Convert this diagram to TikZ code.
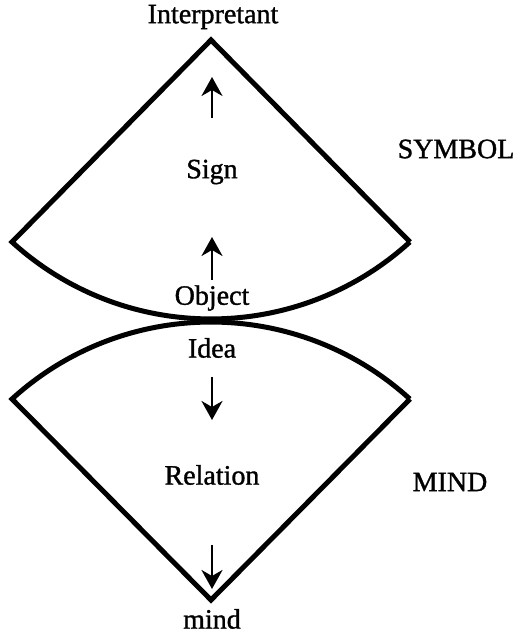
\documentclass[tikz,border=0pt]{standalone}
\usepackage{fontspec}
\setmainfont{Liberation Serif}
\newfontfamily\lblfont{Liberation Serif}[FakeBold=1.2]
\usetikzlibrary{arrows.meta}
\begin{document}
\begin{tikzpicture}[x=1pt,y=1pt,
  shape line/.style={line width=5pt, line join=miter},
  flow/.style={line width=2.6pt, -{Stealth[length=19pt,width=21pt,inset=6pt]}},
  lbl/.style={font=\lblfont\fontsize{28}{30}\selectfont, inner sep=0pt}]
\useasboundingbox (0,0) rectangle (521,632);
% upper sector
\coordinate (ua) at (211,592);
\coordinate (ul) at (12,390);
\coordinate (ur) at (410,390);
\draw[shape line] (ur) -- (ua) -- (ul) arc[start angle=227.7, end angle=312.3, radius=295.6];
% lower sector
\coordinate (la) at (211,32);
\coordinate (ll) at (12,233);
\coordinate (lr) at (410,233);
\draw[shape line] (lr) -- (la) -- (ll) arc[start angle=132.3, end angle=47.7, radius=295.6];
% labels
\node[lbl] (interp) at (213,615) {Interpretant};
\node[lbl] (sign) at (212,460) {Sign};
\node[lbl] (symbol) at (456,483) {SYMBOL};
\node[lbl] (object) at (212,334) {Object};
\node[lbl] (idea) at (212,284) {Idea};
\node[lbl] (relation) at (212,157) {Relation};
\node[lbl] (mindcap) at (450,150) {MIND};
\node[lbl] (mind) at (212,13) {mind};
% arrows
\coordinate (a1s) at (212,514); \coordinate (a1e) at (212,555);
\coordinate (a2s) at (212,352); \coordinate (a2e) at (212,395);
\coordinate (a3s) at (212,255); \coordinate (a3e) at (212,212);
\coordinate (a4s) at (212,87); \coordinate (a4e) at (212,43);
\draw[flow] (a1s) -- (a1e);
\draw[flow] (a2s) -- (a2e);
\draw[flow] (a3s) -- (a3e);
\draw[flow] (a4s) -- (a4e);
\end{tikzpicture}
\end{document}
